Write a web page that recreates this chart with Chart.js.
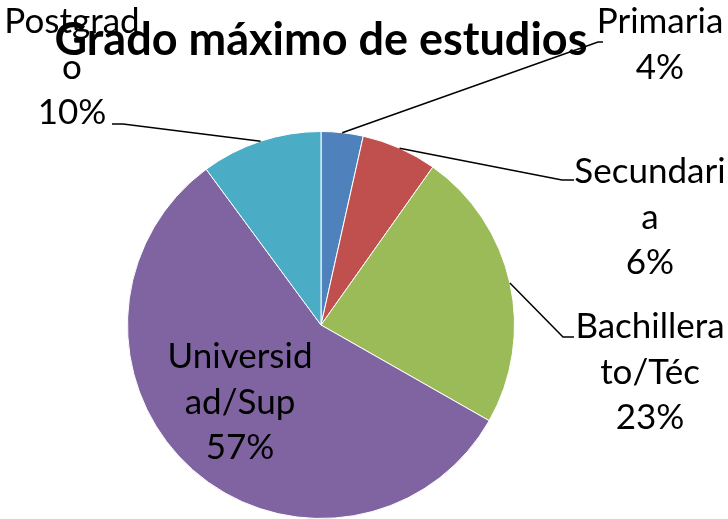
<!DOCTYPE html>
<html>
<head>
<meta charset="utf-8">
<script src="https://cdn.jsdelivr.net/npm/chart.js@4.4.1/dist/chart.umd.min.js"></script>
<style>
  html, body { margin: 0; padding: 0; background: #fff; }
  #wrap { width: 728px; height: 519px; }
</style>
</head>
<body>
<div id="wrap"><canvas id="pieChart"></canvas></div>
<script>
const titleText = 'Grado máximo de estudios';
const categories = ['Primaria', 'Secundaria', 'Bachillerato/Téc', 'Universidad/Sup', 'Postgrado'];
const values = [3.5, 6.3, 23.4, 56.6, 10.1];
const colors = ['#4F81BD', '#C0504D', '#9BBB59', '#8064A2', '#4BACC6'];

const total = values.reduce((a, b) => a + b, 0);
const FONT = '"Lato", "Open Sans", sans-serif';

// label placement (Excel style: wrapped by characters)
const labelLayout = [
  { wrap: 8,  x: 660, y: 22,  elbow: [598, 42],  end: [603, 42] },
  { wrap: 9,  x: 650, y: 172, elbow: [562, 180], end: [574, 180] },
  { wrap: 10, x: 650, y: 327, elbow: [563, 337], end: [574, 337] },
  { wrap: 9,  x: 240, y: 357, inside: true },
  { wrap: 8,  x: 72,  y: 22,  elbow: [123, 124], end: [112, 124] }
];

function wrapChars(s, n) {
  const out = [];
  for (let i = 0; i < s.length; i += n) out.push(s.slice(i, i + n));
  return out;
}

const labelPlugin = {
  id: 'labels',
  afterDraw(chart) {
    const ctx = chart.ctx;
    const arcs = chart.getDatasetMeta(0).data;
    ctx.save();
    arcs.forEach((arc, i) => {
      const lay = labelLayout[i];
      if (!lay.inside) {
        const mid = (arc.startAngle + arc.endAngle) / 2;
        const sx = arc.x + Math.cos(mid) * arc.outerRadius;
        const sy = arc.y + Math.sin(mid) * arc.outerRadius;
        ctx.beginPath();
        ctx.moveTo(sx, sy);
        ctx.lineTo(lay.elbow[0], lay.elbow[1]);
        ctx.lineTo(lay.end[0], lay.end[1]);
        ctx.strokeStyle = '#000';
        ctx.lineWidth = 1.5;
        ctx.stroke();
      }
      const pct = Math.round(values[i] / total * 100) + '%';
      const lines = wrapChars(categories[i], lay.wrap).concat([pct]);
      ctx.font = '35px ' + FONT;
      ctx.fillStyle = '#000';
      ctx.textAlign = 'center';
      ctx.textBaseline = 'middle';
      lines.forEach((t, k) => ctx.fillText(t, lay.x, lay.y + k * 45.5));
    });
    ctx.font = 'bold 45px ' + FONT;
    ctx.textAlign = 'center';
    ctx.textBaseline = 'middle';
    ctx.fillStyle = '#000';
    ctx.fillText(titleText, 321, 40);
    ctx.restore();
  }
};

new Chart(document.getElementById('pieChart'), {
  type: 'pie',
  data: {
    labels: categories,
    datasets: [{
      data: values,
      backgroundColor: colors,
      borderColor: '#ffffff',
      borderWidth: 1
    }]
  },
  options: {
    responsive: true,
    maintainAspectRatio: false,
    animation: false,
    layout: { padding: { left: 125, right: 211, top: 131, bottom: -3 } },
    plugins: {
      legend: { display: false },
      title: { display: false },
      tooltip: { enabled: false }
    }
  },
  plugins: [labelPlugin]
});
</script>
</body>
</html>
